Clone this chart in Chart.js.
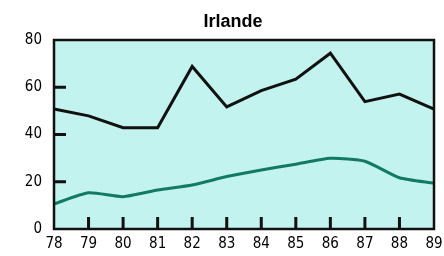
<!DOCTYPE html>
<html>
<head>
<meta charset="utf-8">
<script src="https://cdn.jsdelivr.net/npm/chart.js@4"></script>
<style>
  html, body { margin: 0; padding: 0; background: #fff; }
  #wrap { width: 444px; height: 256px; }
</style>
</head>
<body>
<div id="wrap"><canvas id="chart" width="444" height="256"></canvas></div>
<script>
const title = 'Irlande';
const years = ['78', '79', '80', '81', '82', '83', '84', '85', '86', '87', '88', '89'];
const blackSeries = [50.8, 47.9, 42.9, 42.9, 68.8, 51.7, 58.6, 63.4, 74.4, 53.9, 57.1, 50.7];
const greenSeries = [10.6, 15.3, 13.7, 16.5, 18.6, 22.2, 25.0, 27.4, 29.9, 28.7, 21.7, 19.4];
const yTicks = [0, 20, 40, 60, 80];

const labelFont = "'Liberation Sans Narrow', 'DejaVu Sans Condensed', 'Liberation Sans', sans-serif";
const titleFont = "bold 18px 'Liberation Sans', Arial, sans-serif";

// fond cyan, cadre, petites graduations vers l'intérieur, titre
const framePlugin = {
  id: 'frame',
  beforeDatasetsDraw(chart) {
    const { ctx, chartArea: a } = chart;
    ctx.save();
    ctx.fillStyle = '#c2f3ee';
    ctx.fillRect(a.left, a.top, a.right - a.left, a.bottom - a.top);
    ctx.restore();
  },
  afterDatasetsDraw(chart) {
    const { ctx, chartArea: a, scales } = chart;
    ctx.save();
    ctx.strokeStyle = '#111';
    ctx.lineWidth = 3;
    ctx.beginPath();
    yTicks.slice(1, -1).forEach(v => {
      const y = scales.y.getPixelForValue(v);
      ctx.moveTo(a.left, y);
      ctx.lineTo(a.left + 12, y);
    });
    years.slice(1, -1).forEach((_, i) => {
      const x = scales.x.getPixelForValue(i + 1);
      ctx.moveTo(x, a.bottom);
      ctx.lineTo(x, a.bottom - 12);
    });
    ctx.stroke();
    ctx.lineWidth = 2.5;
    ctx.strokeRect(a.left, a.top, a.right - a.left, a.bottom - a.top);
    ctx.fillStyle = '#000';
    ctx.font = titleFont;
    ctx.textAlign = 'center';
    ctx.textBaseline = 'alphabetic';
    ctx.fillText(title, 233, 27);
    ctx.restore();
  }
};

function draw() {
  new Chart(document.getElementById('chart'), {
    type: 'line',
    data: {
      labels: years,
      datasets: [
        {
          data: blackSeries,
          borderColor: '#111',
          borderWidth: 3,
          pointRadius: 0,
          tension: 0
        },
        {
          data: greenSeries,
          borderColor: '#137a62',
          borderWidth: 3,
          pointRadius: 0,
          tension: 0.2
        }
      ]
    },
    options: {
      responsive: false,
      animation: false,
      layout: { padding: { top: 40, right: 10, left: 0, bottom: 0 } },
      plugins: {
        legend: { display: false },
        title: { display: false },
        tooltip: { enabled: false }
      },
      scales: {
        x: {
          offset: false,
          grid: { display: false, drawTicks: false },
          border: { display: false },
          ticks: {
            color: '#000',
            padding: 6,
            maxRotation: 0,
            autoSkip: false,
            font: { family: labelFont, size: 15 }
          },
          afterFit(scale) {
            scale.height = 27;
            scale.paddingLeft = 0;
            scale.paddingRight = 0;
          }
        },
        y: {
          min: 0,
          max: 80,
          grid: { display: false, drawTicks: false },
          border: { display: false },
          afterBuildTicks(scale) { scale.ticks = yTicks.map(v => ({ value: v })); },
          ticks: {
            color: '#000',
            padding: 12,
            font: { family: labelFont, size: 15 }
          },
          afterFit(scale) { scale.width = 54; }
        }
      }
    },
    plugins: [framePlugin]
  });
}

Promise.all([
  document.fonts.load("15px 'Liberation Sans Narrow'"),
  document.fonts.load("15px 'Liberation Sans'"),
  document.fonts.load(titleFont)
]).catch(() => {}).then(draw);
</script>
</body>
</html>
